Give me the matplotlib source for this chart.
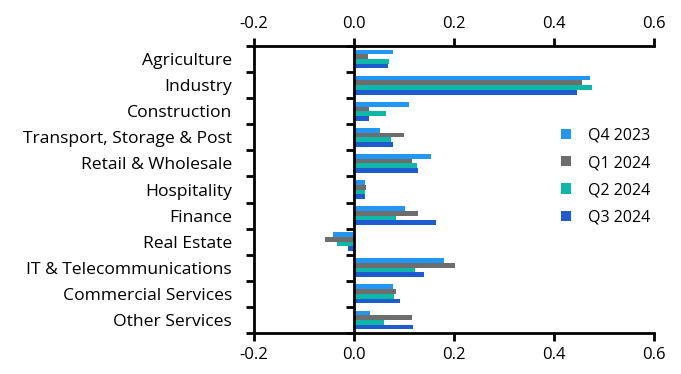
import numpy as np
import matplotlib.pyplot as plt
from matplotlib.ticker import FixedLocator, NullLocator

plt.rcParams['font.family'] = ['Open Sans', 'DejaVu Sans']

#-----------------------------------------------------------------------------#
# data
sectors = ['Agriculture', 'Industry', 'Construction', 'Transport, Storage & Post',
           'Retail & Wholesale', 'Hospitality', 'Finance', 'Real Estate',
           'IT & Telecommunications', 'Commercial Services', 'Other Services']
q4_2023 = [0.079, 0.472, 0.111, 0.053, 0.155, 0.023, 0.103, -0.041, 0.181, 0.079, 0.033]
q1_2024 = [0.029, 0.456, 0.031, 0.101, 0.117, 0.025, 0.129, -0.057, 0.203, 0.085, 0.117]
q2_2024 = [0.071, 0.476, 0.065, 0.075, 0.127, 0.023, 0.085, -0.033, 0.123, 0.081, 0.061]
q3_2024 = [0.069, 0.446, 0.031, 0.079, 0.129, 0.023, 0.165, -0.011, 0.141, 0.093, 0.119]
series = ['Q4 2023', 'Q1 2024', 'Q2 2024', 'Q3 2024']
colors = ['#2196f3', '#6d6d6d', '#0db8aa', '#1f5bd0']
#-----------------------------------------------------------------------------#

fig = plt.figure(figsize=(6.81, 3.74), dpi=100)
ax = fig.add_axes([0.373, 0.1096, 0.587, 0.7674])

y = np.arange(len(sectors))
h = 0.18
for k, (vals, lab, c) in enumerate(zip([q4_2023, q1_2024, q2_2024, q3_2024], series, colors)):
    ax.barh(y + (k - 1.5) * h, vals, height=h, color=c, label=lab)

ax.set_xlim(-0.2, 0.6)
ax.set_ylim(len(sectors) - 0.5, -0.5)
ax.set_xticks([-0.2, 0.0, 0.2, 0.4, 0.6])
ax.set_xticklabels(['-0.2', '0.0', '0.2', '0.4', '0.6'])
ax.xaxis.set_ticks_position('both')
ax.tick_params(axis='x', which='both', direction='out', length=6, width=2,
               labelsize=12, labeltop=True, labelbottom=True, pad=4)

ax.set_yticks(y)
ax.set_yticklabels(sectors)
ax.yaxis.set_minor_locator(FixedLocator(np.arange(-0.5, len(sectors), 1.0)))
ax.tick_params(axis='y', which='major', length=0, labelsize=12.6, pad=16)
ax.tick_params(axis='y', which='minor', length=6, width=2, direction='out')

for s in ['left', 'top', 'bottom']:
    ax.spines[s].set_linewidth(2)
ax.spines['right'].set_visible(False)

# zero line with its own boundary ticks
ax2 = ax.twinx()
ax2.set_ylim(ax.get_ylim())
for s in ['right', 'top', 'bottom']:
    ax2.spines[s].set_visible(False)
ax2.spines['left'].set_position(('data', 0))
ax2.spines['left'].set_linewidth(2)
ax2.yaxis.set_ticks_position('left')
ax2.yaxis.set_major_locator(NullLocator())
ax2.yaxis.set_minor_locator(FixedLocator(np.arange(-0.5, len(sectors), 1.0)))
ax2.tick_params(axis='y', which='minor', length=6, width=2, direction='out')

leg = ax.legend(loc='center left', bbox_to_anchor=(0.733, 0.545), frameon=False,
                fontsize=11.5, handlelength=0.6, handleheight=0.6, handletextpad=1.05,
                labelspacing=0.7)

fig.savefig('out.png', dpi=100)
